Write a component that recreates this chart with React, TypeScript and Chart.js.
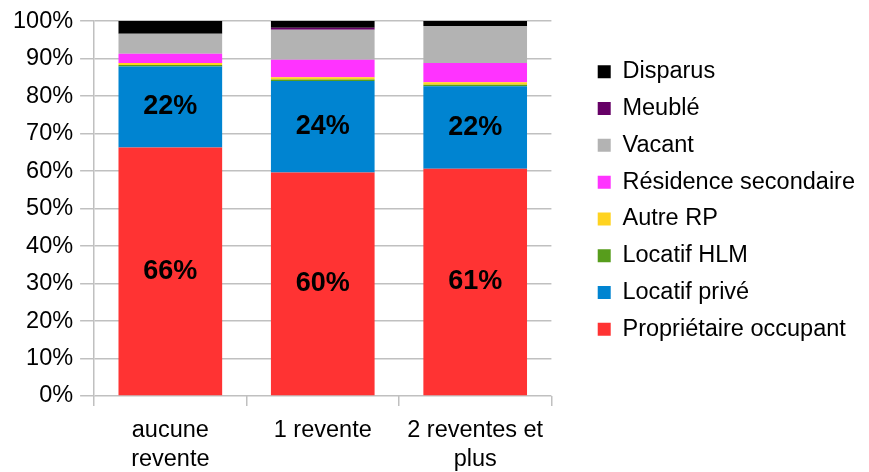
import { useEffect, useRef } from 'react';
import { Chart, registerables } from 'chart.js';

Chart.register(...registerables);

const categories: string[][] = [['aucune', 'revente'], ['1 revente'], ['2 reventes et', 'plus']];

const proprietaireOccupant = [66.3, 59.6, 60.6];
const locatifPrive = [21.6, 24.4, 22.0];
const locatifHLM = [0.4, 0.4, 0.4];
const autreRP = [0.5, 0.6, 0.7];
const residenceSecondaire = [2.5, 4.7, 5.1];
const vacant = [5.3, 8.0, 9.9];
const meuble = [0.0, 0.5, 0.0];
const disparus = [3.4, 1.8, 1.3];

const seriesNames = [
  'Propriétaire occupant',
  'Locatif privé',
  'Locatif HLM',
  'Autre RP',
  'Résidence secondaire',
  'Vacant',
  'Meublé',
  'Disparus',
];
const seriesValues = [proprietaireOccupant, locatifPrive, locatifHLM, autreRP, residenceSecondaire, vacant, meuble, disparus];
const seriesColors = ['#FF3333', '#0084D1', '#579D1C', '#FFD320', '#FF33FF', '#B3B3B3', '#660066', '#000000'];

const FONT = '"Liberation Sans", Arial, sans-serif';
const GRID = '#c0c0c0';

const segmentLabels = {
  id: 'segmentLabels',
  afterDatasetsDraw(chart: any) {
    const ctx = chart.ctx;
    ctx.save();
    ctx.font = `bold 27px ${FONT}`;
    ctx.fillStyle = '#000';
    ctx.textAlign = 'center';
    ctx.textBaseline = 'middle';
    [0, 1].forEach((di) => {
      const meta = chart.getDatasetMeta(di);
      meta.data.forEach((el: any, i: number) => {
        const v = chart.data.datasets[di].data[i] as number;
        const p = el.getProps(['x', 'y', 'base'], true);
        ctx.fillText(Math.round(v) + '%', p.x, (p.y + p.base) / 2);
      });
    });
    ctx.restore();
  },
};

const legendShift = {
  id: 'legendShift',
  afterLayout(chart: any) {
    const lg = chart.legend;
    if (lg) {
      lg.top -= 8;
      lg.bottom -= 8;
    }
  },
};

export default function App() {
  const ref = useRef<HTMLCanvasElement | null>(null);

  useEffect(() => {
    if (!ref.current) return;
    Chart.defaults.font.family = FONT;
    Chart.defaults.color = '#000';
    const chart = new Chart(ref.current, {
      type: 'bar',
      data: {
        labels: categories as any,
        datasets: seriesNames.map((name, i) => ({
          label: name,
          data: seriesValues[i],
          backgroundColor: seriesColors[i],
          borderWidth: 0,
          barPercentage: 0.68,
          categoryPercentage: 1,
        })),
      },
      options: {
        animation: false,
        responsive: true,
        maintainAspectRatio: false,
        layout: { padding: { left: 6, top: 21, right: 4, bottom: -12 } },
        scales: {
          x: {
            stacked: true,
            grid: {
              offset: true,
              drawOnChartArea: false,
              drawTicks: true,
              tickLength: 10,
              color: GRID,
              lineWidth: 1.5,
            },
            border: { display: false },
            ticks: { font: { size: 23.5, lineHeight: 1.234 }, color: '#000', padding: 10, maxRotation: 0, autoSkip: false },
          },
          y: {
            stacked: true,
            min: 0,
            max: 100,
            grid: { color: GRID, lineWidth: 1.5, tickLength: 14 },
            border: { display: true, color: GRID, width: 1.5 },
            ticks: {
              stepSize: 10,
              padding: 7,
              font: { size: 23.5 },
              color: '#000',
              callback: (v: any) => v + '%',
            },
          },
          yPad: {
            type: 'linear',
            position: 'right',
            display: true,
            grid: { display: false, drawTicks: false },
            border: { display: false },
            ticks: { display: false },
            afterFit: (s: any) => {
              s.width = 33;
            },
          },
        } as any,
        plugins: {
          legend: {
            position: 'right',
            fullSize: false,
            reverse: true,
            maxWidth: 320,
            labels: {
              boxWidth: 13,
              boxHeight: 13,
              padding: 13.3,
              font: { size: 23.5 },
              color: '#000',
            },
          },
          tooltip: { enabled: false },
        },
      },
      plugins: [segmentLabels, legendShift],
    });
    return () => chart.destroy();
  }, []);

  return (
    <div style={{ position: 'fixed', left: 0, top: 0, width: 869, height: 472, background: '#fff' }}>
      <canvas ref={ref} />
    </div>
  );
}
